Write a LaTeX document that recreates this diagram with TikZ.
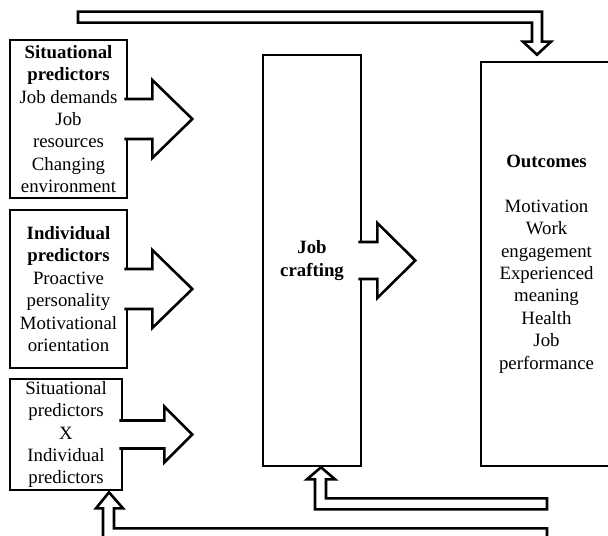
\documentclass[tikz,border=0pt]{standalone}
\usepackage{fontspec}
\setmainfont{Liberation Serif}
\usetikzlibrary{calc}

\begin{document}
\begin{tikzpicture}[x=0.5pt,y=-0.5pt,
box/.style={rectangle,draw=black,line width=1.3pt,align=center,inner sep=0pt,font=\fontsize{9.4}{11.2}\selectfont},
predbox/.style={box,minimum width=58.5pt,minimum height=79pt},
blockarrow/.style={draw=black,fill=white,line width=1.3pt},
feedback/.style={draw=black,fill=white,line width=1.3pt}]

\useasboundingbox (0,0) rectangle (608,535);
\clip (0,0) rectangle (608,535);

% Predictors
\node[predbox] (situational) at (68.5,119) {\textbf{Situational}\\\textbf{predictors}\\Job demands\\Job\\resources\\Changing\\environment};
\node[predbox] (individual) at (68.5,289) {\textbf{Individual}\\\textbf{predictors}\\Proactive\\personality\\Motivational\\orientation};
\node[box,minimum width=56pt,minimum height=55.5pt] (interaction) at (66,434.5) {Situational\\predictors\\X\\Individual\\predictors};

% Job crafting
\node[box,minimum width=49pt,minimum height=205.5pt] (crafting) at (312,260.5) {\textbf{Job}\\\textbf{crafting}};

% Outcomes
\node[box,minimum width=65.5pt,minimum height=202pt] (outcomes) at (546.5,264) {\textbf{Outcomes}\\[11.2pt]Motivation\\Work\\engagement\\Experienced\\meaning\\Health\\Job\\performance};

% Block arrows
\draw[blockarrow] ($(situational.east)+(-4,-20)$) -- ++(28,0) -- ++(0,-19) -- ++(40,39) -- ++(-40,39) -- ++(0,-19) -- ++(-28,0);
\draw[blockarrow] ($(individual.east)+(-4,-20)$) -- ++(28,0) -- ++(0,-19) -- ++(40,39) -- ++(-40,39) -- ++(0,-19) -- ++(-28,0);
\draw[blockarrow] ($(interaction.east)+(-4,-14)$) -- ++(45,0) -- ++(0,-14) -- ++(28,28) -- ++(-28,28) -- ++(0,-14) -- ++(-45,0);
\draw[blockarrow] ($(crafting.east)+(-4,-18.5)$) -- ++(19,0) -- ++(0,-19) -- ++(38,37.5) -- ++(-38,37.5) -- ++(0,-19) -- ++(-19,0);

% Feedback arrows
\draw[feedback] ($(outcomes.north)+(-9.5,-6)$) -- ++(14,-13) -- ++(-9,0) -- ++(0,-30) -- ++(-464,0) -- ++(0,11) -- ++(454,0) -- ++(0,19) -- ++(-9,0) -- cycle;
\draw[feedback] ($(crafting.south)+(9,0)$) -- ++(14,12) -- ++(-9,0) -- ++(0,19) -- ++(221,0) -- ++(0,11) -- ++(-232,0) -- ++(0,-30) -- ++(-8,0) -- cycle;
\draw[feedback] ($(interaction.south)+(43,1)$) -- ++(14,16) -- ++(-9,0) -- ++(0,20) -- ++(433,0) -- ++(0,12) -- ++(-444,0) -- ++(0,-32) -- ++(-7,0) -- cycle;

\end{tikzpicture}
\end{document}
